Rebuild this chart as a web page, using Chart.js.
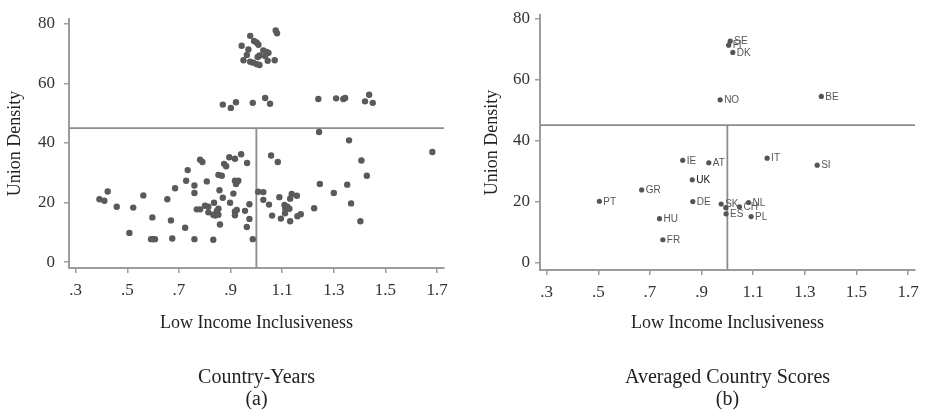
<!DOCTYPE html>
<html><head><meta charset="utf-8">
<script src="https://cdn.jsdelivr.net/npm/chart.js@4/dist/chart.umd.min.js"></script>
<style>
html,body{margin:0;padding:0;background:#fff;width:926px;height:416px;overflow:hidden}
canvas{position:absolute;top:0}
#a{left:0}
#b{left:471px}
</style></head><body>
<canvas id="a" width="463" height="416"></canvas>
<canvas id="b" width="455" height="416"></canvas>
<script>
// ---- tick labels ----
const xTickValues = [0.3, 0.5, 0.7, 0.9, 1.1, 1.3, 1.5, 1.7];
const xTickLabels = ['.3', '.5', '.7', '.9', '1.1', '1.3', '1.5', '1.7'];
const yTickValues = [0, 20, 40, 60, 80];
const xTitle = 'Low Income Inclusiveness';
const yTitle = 'Union Density';
const captionA = ['Country-Years', '(a)'];
const captionB = ['Averaged Country Scores', '(b)'];
const refX = 1.0;
const refY = 45;

// ---- panel (a): country-years ----
const yearsX = [
 1.075,1.080,0.976,0.991,1.001,1.008,0.943,0.969,1.027,1.040,1.047,0.963,1.012,1.005,1.034,0.950,0.976,0.988,1.002,1.012,1.044,1.071,
 0.870,0.901,0.921,0.986,1.034,1.053,1.240,1.309,1.337,1.344,1.437,1.421,1.451,
 1.243,1.359,1.682,1.407,1.428,1.246,1.352,1.300,1.367,1.224,1.403,1.057,1.083,1.007,1.027,1.027,1.049,1.089,1.137,1.157,1.131,
 1.109,1.120,1.128,1.112,1.061,1.095,1.111,1.131,1.159,1.172,0.986,
 0.895,0.917,0.941,0.964,0.875,0.883,0.853,0.866,0.808,0.917,0.924,0.930,0.921,0.857,0.911,0.870,0.898,0.973,0.801,0.814,
 0.769,0.782,0.836,0.853,0.847,0.814,0.833,0.840,0.853,0.917,0.924,0.917,0.956,0.973,0.859,0.963,0.833,0.782,0.791,
 0.392,0.411,0.424,0.459,0.508,0.523,0.562,0.597,0.592,0.601,0.607,0.655,0.669,0.674,0.685,0.724,0.728,0.734,0.760,0.760,0.760
];
const yearsY = [
 77.8,76.9,76.0,74.3,73.8,73.0,72.7,71.4,71.1,70.6,70.3,69.6,69.4,68.9,69.2,67.8,67.3,67.0,66.5,66.2,67.6,67.8,
 52.9,51.8,53.7,53.5,55.1,53.2,54.8,55.0,54.8,55.1,56.2,54.0,53.5,
 43.7,40.9,37.0,34.1,29.0,26.2,26.0,23.2,19.7,18.1,13.7,35.8,33.6,23.6,23.5,20.9,19.3,21.8,22.9,22.3,21.3,
 19.2,18.6,17.9,17.9,15.6,14.6,16.4,13.7,15.4,16.1,7.7,
 35.2,34.7,36.2,33.3,33.0,32.2,29.3,29.0,27.1,27.3,26.8,27.3,26.2,24.1,23.0,21.6,19.9,19.4,18.9,18.6,
 17.7,17.7,19.9,17.9,17.2,16.7,15.9,15.6,15.9,17.0,17.5,15.7,17.2,14.5,12.6,11.8,7.5,34.4,33.6,
 21.1,20.6,23.7,18.6,9.8,18.3,22.4,15.0,7.7,7.7,7.7,21.1,14.0,7.9,24.8,11.5,27.3,30.9,25.7,23.2,7.7
];

// ---- panel (b): averaged country scores ----
const countryCodes = ['SE','FI','DK','NO','BE','IE','AT','IT','SI','UK','GR','PT','DE','SK','','NL','CH','ES','PL','HU','FR'];
const countryX = [1.011,1.005,1.021,0.972,1.364,0.827,0.928,1.154,1.348,0.864,0.668,0.504,0.866,0.976,0.994,1.082,1.047,0.995,1.092,0.737,0.750];
const countryY = [72.5,71.2,68.8,53.3,54.4,33.5,32.7,34.2,31.9,27.1,23.8,20.1,20.0,19.2,18.0,19.7,18.3,16.0,15.1,14.4,7.5];

const SERIF = "'Liberation Serif', 'Times New Roman', serif";
const AXIS_GRAY = '#9c9c9c';

const refLines = {
  id: 'refLines',
  beforeDatasetsDraw(chart) {
    const {ctx, chartArea, scales} = chart;
    const py = scales.y.getPixelForValue(refY);
    const px = scales.x.getPixelForValue(refX);
    ctx.save();
    ctx.strokeStyle = '#8c8c8c';
    ctx.lineWidth = 1.8;
    ctx.beginPath();
    ctx.moveTo(chartArea.left, py);
    ctx.lineTo(chartArea.right, py);
    ctx.moveTo(px, py);
    ctx.lineTo(px, chartArea.bottom);
    ctx.stroke();
    ctx.restore();
  }
};

const pointLabels = {
  id: 'pointLabels',
  afterDatasetsDraw(chart, args, opts) {
    if (!opts.labels) return;
    const {ctx} = chart;
    const meta = chart.getDatasetMeta(0);
    ctx.save();
    ctx.font = "10px 'Liberation Sans', Arial, sans-serif";
    ctx.textBaseline = 'middle';
    ctx.textAlign = 'left';
    meta.data.forEach((el, i) => {
      const t = opts.labels[i];
      if (!t) return;
      ctx.fillStyle = t === 'UK' ? '#111' : '#555';
      ctx.fillText(t, el.x + 4, el.y + 0.5);
    });
    ctx.restore();
  }
};

function makeChart(id, cfg) {
  const pts = cfg.xs.map((x, i) => ({x: x, y: cfg.ys[i]}));
  return new Chart(document.getElementById(id), {
    type: 'scatter',
    data: {datasets: [{
      data: pts,
      backgroundColor: cfg.color,
      borderWidth: 0,
      pointRadius: cfg.radius,
      pointHoverRadius: cfg.radius
    }]},
    plugins: [refLines, pointLabels],
    options: {
      responsive: false,
      animation: false,
      events: [],
      layout: {padding: {top: 12, right: cfg.padRight, left: 0, bottom: 0}},
      plugins: {
        legend: {display: false},
        tooltip: {enabled: false},
        title: {
          display: true,
          position: 'bottom',
          fullSize: false,
          text: cfg.caption,
          color: '#222',
          font: {family: SERIF, size: 20, weight: 'normal', lineHeight: 1.1},
          padding: {top: 10, bottom: 5}
        },
        pointLabels: {labels: cfg.labels}
      },
      scales: {
        x: {
          type: 'linear',
          min: 0.274, max: 1.727,
          afterBuildTicks: s => { s.ticks = xTickValues.map(v => ({value: v})); },
          afterFit: s => { s.height = cfg.xAxisH; },
          ticks: {
            autoSkip: false, maxRotation: 0, padding: 7,
            color: '#333',
            font: {family: SERIF, size: 17},
            callback: v => {
              const i = xTickValues.findIndex(t => Math.abs(t - v) < 1e-6);
              return i >= 0 ? xTickLabels[i] : '';
            }
          },
          grid: {drawOnChartArea: false, drawTicks: true, tickLength: 5, color: AXIS_GRAY, lineWidth: 1.5},
          border: {display: true, color: AXIS_GRAY, width: 2},
          title: {
            display: true, text: xTitle, color: '#222',
            font: {family: SERIF, size: 18, lineHeight: 1.2},
            padding: {top: 0, bottom: 23}
          }
        },
        y: {
          type: 'linear',
          min: cfg.ymin, max: cfg.ymax,
          afterBuildTicks: s => { s.ticks = yTickValues.map(v => ({value: v})); },
          afterFit: s => { s.width = 69; },
          ticks: {
            padding: cfg.yTickPad,
            color: '#333',
            font: {family: SERIF, size: 17}
          },
          grid: {drawOnChartArea: false, drawTicks: true, tickLength: 5, color: AXIS_GRAY, lineWidth: 1.5},
          border: {display: true, color: AXIS_GRAY, width: 2},
          title: {
            display: true, text: yTitle, color: '#222',
            font: {family: SERIF, size: 18, lineHeight: 1.2},
            padding: {top: cfg.yTitlePad, bottom: 0}
          }
        }
      }
    }
  });
}

makeChart('a', {
  xs: yearsX, ys: yearsY, caption: captionA, labels: null,
  color: '#5a5a5a', radius: 3.2,
  padRight: 19, xAxisH: 89, ymin: -2, ymax: 81.6, yTickPad: 9, yTitlePad: 4
});
makeChart('b', {
  xs: countryX, ys: countryY, caption: captionB, labels: countryCodes,
  color: '#555', radius: 2.6,
  padRight: 11, xAxisH: 87, ymin: -2.4, ymax: 81.0, yTickPad: 5, yTitlePad: 10
});
</script>
</body></html>
